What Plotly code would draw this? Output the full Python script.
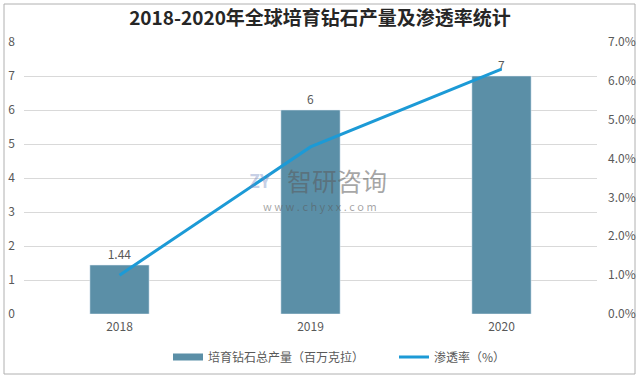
import plotly.graph_objects as go

years = ["2018", "2019", "2020"]
production = [1.44, 6, 7]          # 百万克拉
production_labels = ["1.44", "6", "7"]
penetration = [0.010, 0.043, 0.063]  # 渗透率

BAR_COLOR = "#5B8FA7"
LINE_COLOR = "#1C9AD6"

W, H = 640, 379
L, R, T, B = 24, 43, 42, 65
pw, ph = W - L - R, H - T - B

def px(x):
    return (x - L) / pw

def py(y):
    return (H - B - y) / ph

fig = go.Figure()
fig.add_trace(go.Bar(
    x=years, y=production, name="培育钻石总产量（百万克拉）",
    marker=dict(color=BAR_COLOR), showlegend=False,
    text=production_labels, textposition="outside",
    textfont=dict(size=12, color="#595959"),
    cliponaxis=False,
))
# legend proxy for the bar series (wide rectangle swatch as in the reference)
fig.add_trace(go.Scatter(
    x=[None], y=[None], name="培育钻石总产量（百万克拉）",
    mode="lines", line=dict(color=BAR_COLOR, width=7),
))
fig.add_trace(go.Scatter(
    x=years, y=penetration, name="渗透率（%）", yaxis="y2",
    mode="lines", line=dict(color=LINE_COLOR, width=3),
))

fig.update_layout(
    width=W, height=H,
    margin=dict(l=L, r=R, t=T, b=B, autoexpand=False),
    paper_bgcolor="white", plot_bgcolor="white",
    font=dict(family="Noto Sans CJK SC, sans-serif", size=12, color="#595959"),
    title=dict(text="<b>2018-2020年全球培育钻石产量及渗透率统计</b>",
               x=0.5, xanchor="center", y=1 - 18 / H, yanchor="middle",
               font=dict(size=19, color="#262626")),
    bargap=0.69,
    showlegend=True,
    legend=dict(orientation="h", x=px(168), xanchor="left", y=py(357), yanchor="middle",
                font=dict(size=12, color="#595959"), entrywidth=181, entrywidthmode="pixels",
                itemwidth=30),
    xaxis=dict(showgrid=False, showline=False, ticks="", tickfont=dict(size=12, color="#595959"),
               ticklabelstandoff=4, automargin=False),
    yaxis=dict(range=[0, 8], dtick=1, showgrid=True, gridcolor="#D9D9D9", gridwidth=1,
               zeroline=False, showline=False, ticks="", tickfont=dict(size=12, color="#595959"),
               ticklabelstandoff=8, automargin=False),
    yaxis2=dict(range=[0, 0.07], dtick=0.01, tickformat=".1%", overlaying="y", side="right",
                showgrid=False, zeroline=False, showline=False, ticks="",
                tickfont=dict(size=12, color="#595959"), ticklabelstandoff=10, automargin=False),
)

# outer frame
fig.add_shape(type="rect", xref="paper", yref="paper",
              x0=px(4), x1=px(635), y0=py(374), y1=py(4),
              line=dict(color="#B0B0B0", width=1), fillcolor="rgba(0,0,0,0)", layer="below")

# watermark
fig.add_annotation(text="智研咨询", xref="paper", yref="paper", x=px(337), y=py(180),
                   showarrow=False, font=dict(size=25, color="rgba(90,90,90,0.55)"))
fig.add_annotation(text="w w w . c h y x x . c o m", xref="paper", yref="paper", x=px(320), y=py(206),
                   showarrow=False, font=dict(size=11, color="rgba(90,90,90,0.55)"))
fig.add_annotation(text="<b>ZY</b>", xref="paper", yref="paper", x=px(260), y=py(180),
                   showarrow=False, font=dict(size=18, color="rgba(110,130,190,0.4)"))

fig.write_html("out.html", config={"displayModeBar": False},
               post_script="document.body.style.margin='0px';document.body.style.overflow='hidden';")
